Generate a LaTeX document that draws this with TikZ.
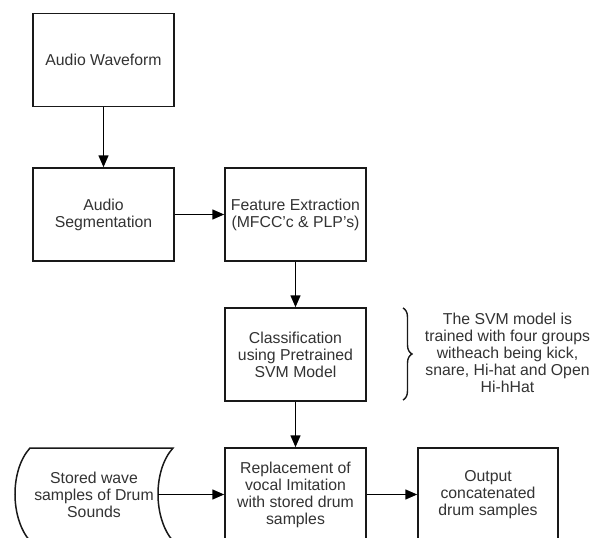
\documentclass[tikz,border=0pt]{standalone}
\usepackage{fontspec}
\setmainfont{Liberation Sans}
\usetikzlibrary{arrows.meta,decorations.pathreplacing}
\begin{document}
\begin{tikzpicture}[x=1pt,y=-1pt,
  box/.style={draw=black!90, line width=1.5pt, minimum width=141pt, minimum height=93pt,
    inner sep=0pt, align=center, text=black!80, font=\fontsize{15.8}{17}\selectfont},
  plain/.style={inner sep=0pt, align=center, text=black!80, font=\fontsize{15.8}{17}\selectfont},
  arr/.style={draw=black, line width=1.5pt, -{Triangle[length=12pt,width=10pt]}},
  outline/.style={draw=black!90, line width=1.5pt}]
\useasboundingbox (0,0) rectangle (590,538);
\fill[white] (0,0) rectangle (590,538);
\node[box] (wave) at (103.5,60) {Audio Waveform};
\node[box] (seg) at (103.5,214.5) {Audio\\Segmentation};
\node[box] (feat) at (295.5,214.5) {Feature Extraction\\(MFCC'c \& PLP's)};
\node[box] (cls) at (295.5,354.5) {Classification\\using Pretrained\\SVM Model};
\node[box] (rep) at (295.5,494.5) {Replacement of\\vocal Imitation\\with stored drum\\samples};
\node[box, minimum width=140pt] (out) at (488,494.5) {Output\\concatenated\\drum samples};
\node[plain, minimum width=128pt, minimum height=93pt] (stored) at (94,494.5) {Stored wave\\samples of Drum\\Sounds};
\draw[outline] (30,448) -- (173,448) .. controls (153,470) and (153,518) .. (173,541)
  -- (30,541) .. controls (10,518) and (10,470) .. (30,448) -- cycle;
\node[plain] (note) at (507.5,352.5)
  {The SVM model is\\trained with four groups\\witheach being kick,\\snare, Hi-hat and Open\\Hi-hHat};
\coordinate (braceTop) at (403,308);
\coordinate (braceBot) at (403,400);
\draw[outline, line width=1.4pt, decorate, decoration={brace, amplitude=9pt}] (braceTop) -- (braceBot);
\draw[arr] (wave) -- (seg);
\draw[arr] (seg) -- (feat);
\draw[arr] (feat) -- (cls);
\draw[arr] (cls) -- (rep);
\draw[arr] (stored.east) -- (rep.west);
\draw[arr] (rep) -- (out);
\end{tikzpicture}
\end{document}
